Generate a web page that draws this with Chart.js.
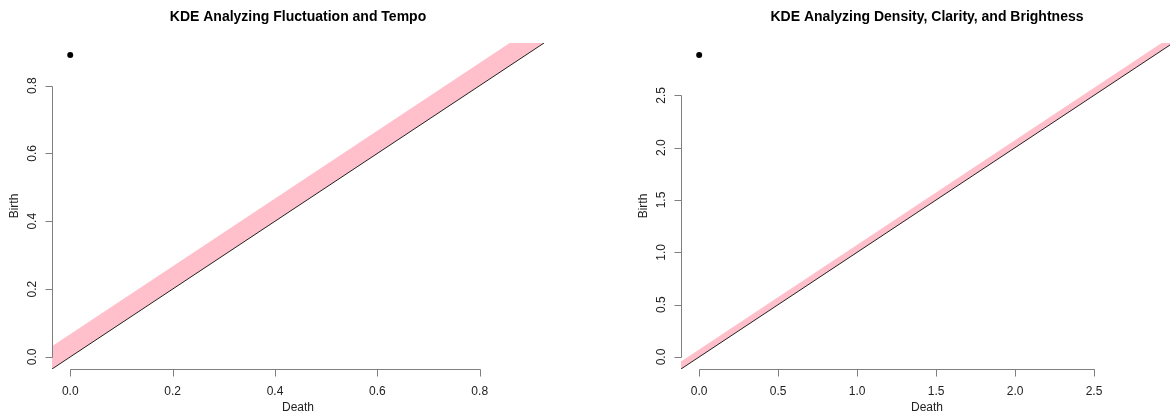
<!DOCTYPE html>
<html>
<head>
<meta charset="utf-8">
<script src="https://cdn.jsdelivr.net/npm/chart.js@4/dist/chart.umd.min.js"></script>
<style>
  html, body { margin: 0; padding: 0; background: #fff; overflow: hidden; }
  #wrap { position: relative; width: 1170px; height: 415px; overflow: hidden; }
  canvas { position: absolute; top: 0; }
  #left { left: 0; }
  #right { left: 585px; }
</style>
</head>
<body>
<div id="wrap">
  <canvas id="left" width="585" height="415"></canvas>
  <canvas id="right" width="592" height="415"></canvas>
</div>
<script>
// persistence diagrams, one feature each
const titles = ['KDE Analyzing Fluctuation and Tempo', 'KDE Analyzing Density, Clarity, and Brightness'];
const death1 = [0];
const birth1 = [0.89];
const death2 = [0];
const birth2 = [2.885];
const ticks1 = [0, 0.2, 0.4, 0.6, 0.8];
const ticks2 = [0, 0.5, 1, 1.5, 2, 2.5];
const limits1 = [-0.0356, 0.9256];
const limits2 = [-0.115, 3.0];
const bands = [0.067, 0.072];

// R-ish base graphics axes: detached tick range, rotated y labels
const rAxes = {
    id: 'rAxes',
    afterDraw(chart, args, opts) {
        let ctx = chart.ctx;
        let area = chart.chartArea;
        let xs = chart.scales.x;
        let ys = chart.scales.y;
        ctx.save();

        ctx.fillStyle = '#000';
        ctx.font = 'bold 14px "Liberation Sans", Arial, sans-serif';
        ctx.textAlign = 'center';
        ctx.textBaseline = 'alphabetic';
        ctx.fillText(opts.title, (area.left + area.right) / 2, 21);

        ctx.strokeStyle = '#7f7f7f';
        ctx.lineWidth = 1;

        // x axis
        let y0 = Math.round(area.bottom) + 0.5;
        let first = Math.round(xs.getPixelForValue(opts.ticks[0])) + 0.5;
        let last = Math.round(xs.getPixelForValue(opts.ticks[opts.ticks.length - 1])) + 0.5;
        ctx.beginPath();
        ctx.moveTo(first, y0);
        ctx.lineTo(last, y0);
        opts.ticks.forEach(t => {
            let px = Math.round(xs.getPixelForValue(t)) + 0.5;
            ctx.moveTo(px, y0);
            ctx.lineTo(px, y0 + 7);
        });
        ctx.stroke();

        // y axis
        let x0 = Math.round(area.left) + 0.5;
        let top = Math.round(ys.getPixelForValue(opts.ticks[opts.ticks.length - 1])) + 0.5;
        let bot = Math.round(ys.getPixelForValue(opts.ticks[0])) + 0.5;
        ctx.beginPath();
        ctx.moveTo(x0, bot);
        ctx.lineTo(x0, top);
        opts.ticks.forEach(t => {
            let py = Math.round(ys.getPixelForValue(t)) + 0.5;
            ctx.moveTo(x0, py);
            ctx.lineTo(x0 - 7, py);
        });
        ctx.stroke();

        ctx.fillStyle = '#222';
        ctx.font = '12px "Liberation Sans", Arial, sans-serif';
        ctx.textAlign = 'center';
        opts.ticks.forEach(t => {
            ctx.fillText(t.toFixed(1), xs.getPixelForValue(t), area.bottom + 26);
        });
        ctx.fillText('Death', (area.left + area.right) / 2, area.bottom + 42);

        opts.ticks.forEach(t => {
            ctx.save();
            ctx.translate(area.left - 16, ys.getPixelForValue(t));
            ctx.rotate(-Math.PI / 2);
            ctx.fillText(t.toFixed(1), 0, 0);
            ctx.restore();
        });
        ctx.save();
        ctx.translate(area.left - 34, (area.top + area.bottom) / 2);
        ctx.rotate(-Math.PI / 2);
        ctx.fillText('Birth', 0, 0);
        ctx.restore();

        ctx.restore();
    }
};

function makeDiagram(id, title, deaths, births, ticks, limits, band, pad) {
    let points = deaths.map((d, i) => ({ x: d, y: births[i] }));
    let diag = [{ x: limits[0], y: limits[0] }, { x: limits[1], y: limits[1] }];
    let upper = [{ x: limits[0], y: limits[0] + band }, { x: limits[1], y: limits[1] + band }];

    new Chart(document.getElementById(id), {
        type: 'line',
        data: {
            datasets: [
                {
                    data: points,
                    showLine: false,
                    pointRadius: 3,
                    pointBackgroundColor: '#000',
                    pointBorderWidth: 0,
                    order: -1
                },
                {
                    data: upper,
                    borderWidth: 0,
                    pointRadius: 0,
                    backgroundColor: '#ffc0cb',
                    fill: '+1',
                    order: 1
                },
                {
                    data: diag,
                    borderColor: '#222',
                    borderWidth: 1,
                    pointRadius: 0,
                    fill: false,
                    order: 0
                }
            ]
        },
        options: {
            responsive: false,
            animation: false,
            devicePixelRatio: 1,
            layout: { padding: pad },
            plugins: {
                legend: { display: false },
                tooltip: { enabled: false },
                rAxes: { title: title, ticks: ticks }
            },
            scales: {
                x: { type: 'linear', min: limits[0], max: limits[1], display: false },
                y: { type: 'linear', min: limits[0], max: limits[1], display: false }
            }
        },
        plugins: [rAxes]
    });
}

makeDiagram('left', titles[0], death1, birth1, ticks1, limits1, bands[0],
    { left: 52, right: 41, top: 43, bottom: 46 });
makeDiagram('right', titles[1], death2, birth2, ticks2, limits2, bands[1],
    { left: 96, right: 2, top: 43, bottom: 46 });
</script>
</body>
</html>
